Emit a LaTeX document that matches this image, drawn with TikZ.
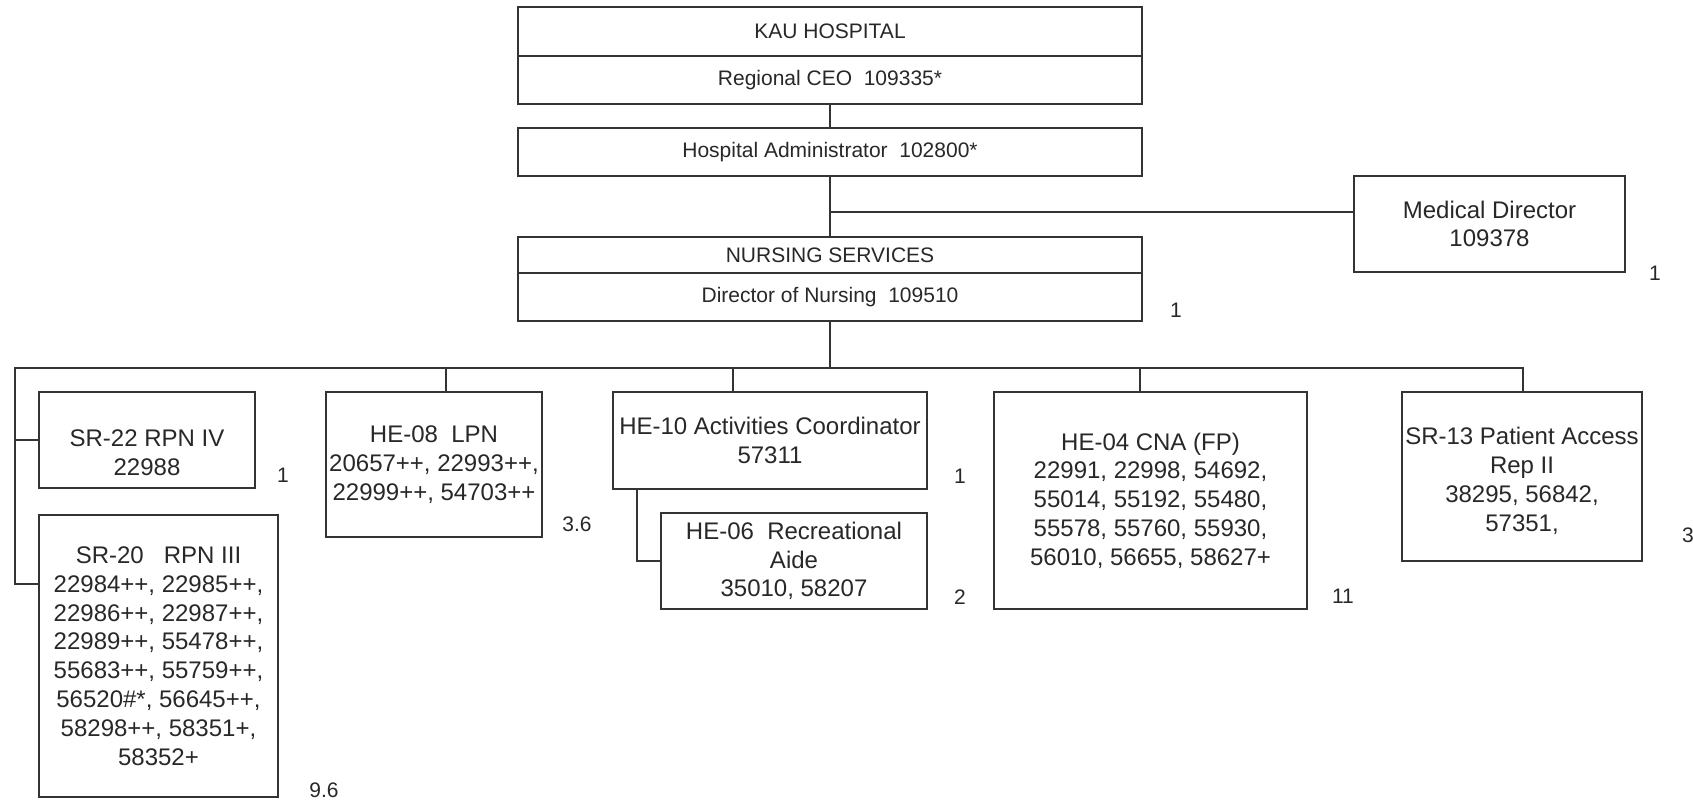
\documentclass[tikz,border=0pt]{standalone}
\usepackage{fontspec}
\setmainfont{Liberation Sans}
\definecolor{ink}{RGB}{52,52,52}
\definecolor{txtc}{RGB}{40,40,40}
\begin{document}
\begin{tikzpicture}[x=1pt,y=-1pt,
  every node/.style={text=txtc},
  box/.style={draw=ink, line width=2.6pt, rectangle, inner sep=0pt, align=center},
  topfont/.style={font=\fontsize{21}{25}\selectfont},
  lowfont/.style={font=\fontsize{24}{28.8}\selectfont},
  txt/.style={align=center, inner sep=0pt, font=\fontsize{24}{28.8}\selectfont},
  numfont/.style={font=\fontsize{21}{25}\selectfont, inner sep=0pt},
  conn/.style={draw=ink, line width=2.6pt}]
\useasboundingbox[fill=white] (0,0) rectangle (1693,801);

% top chain
\node[box, topfont, minimum width=624pt, minimum height=49pt] (kau) at (830,31.5) {KAU HOSPITAL};
\node[box, topfont, minimum width=624pt, minimum height=48pt] (ceo) at (830,80) {Regional CEO\ \ 109335*};
\node[box, topfont, minimum width=624pt, minimum height=48pt] (admin) at (830,152) {Hospital Administrator\ \ 102800*};
\node[box, topfont, minimum width=624pt, minimum height=36pt] (nurs) at (830,255) {NURSING SERVICES};
\node[box, topfont, minimum width=624pt, minimum height=48pt] (dir) at (830,297) {Director of Nursing\ \ 109510};
\node[box, lowfont, minimum width=271pt, minimum height=96pt] (md) at (1489.5,224) {Medical Director\\109378};

% lower boxes
\node[box, minimum width=216pt, minimum height=96pt] (sr22) at (147,440) {};
\node[txt] (sr22t) at (147,453) {SR-22 RPN IV\\22988};
\node[box, lowfont, minimum width=239pt, minimum height=282pt] (sr20) at (158.5,656) {SR-20\ \ \ RPN III\\22984++, 22985++,\\22986++, 22987++,\\22989++, 55478++,\\55683++, 55759++,\\56520\#*, 56645++,\\58298++, 58351+,\\58352+};
\node[box, lowfont, minimum width=216pt, minimum height=145pt] (he08) at (434,464.5) {HE-08\ \ LPN\\20657++, 22993++,\\22999++, 54703++};
\node[box, lowfont, minimum width=314pt, minimum height=97pt] (he10) at (770,440.5) {HE-10 Activities Coordinator\\57311};
\node[box, lowfont, minimum width=266pt, minimum height=96pt] (he06) at (794,561) {HE-06\ \ Recreational\\Aide\\35010, 58207};
\node[box, lowfont, minimum width=313pt, minimum height=217pt] (he04) at (1150.5,500.5) {HE-04 CNA (FP)\\22991, 22998, 54692,\\55014, 55192, 55480,\\55578, 55760, 55930,\\56010, 56655, 58627+};
\node[box, minimum width=240pt, minimum height=169pt] (sr13) at (1522,476.5) {};
\node[txt] (sr13t) at (1522,481) {SR-13 Patient Access\\Rep II\\38295, 56842,\\57351,};

% counts
\node[numfont] (c1) at (1176,310) {1};
\node[numfont] (c2) at (1655,273) {1};
\node[numfont] (c3) at (283,475) {1};
\node[numfont] (c4) at (324,790) {9.6};
\node[numfont] (c5) at (577,524) {3.6};
\node[numfont] (c6) at (960,476) {1};
\node[numfont] (c7) at (960,597) {2};
\node[numfont] (c8) at (1343,596) {11};
\node[numfont] (c9) at (1688,535) {3};

% connectors
\draw[conn] (ceo.south) -- (admin.north);
\draw[conn] (admin.south) -- (nurs.north);
\coordinate (mj) at (830,212);
\draw[conn] (mj) -- (mj -| md.west);
\coordinate (busL) at (15,368);
\coordinate (busR) at (1523,368);
\draw[conn] (dir.south) -- (dir.south |- busL);
\draw[conn] ([yshift=72pt]sr20.west) -| (busL) -- (busR) -- (busR |- sr13.north);
\draw[conn] (sr22.west) -- (sr22.west -| busL);
\draw[conn] ([xshift=12pt]he08.north) -- ([xshift=12pt]he08.north |- busL);
\draw[conn] ([xshift=-37pt]he10.north) -- ([xshift=-37pt]he10.north |- busL);
\draw[conn] ([xshift=-10.5pt]he04.north) -- ([xshift=-10.5pt]he04.north |- busL);
\draw[conn] ([xshift=-133pt]he10.south) |- (he06.west);
\end{tikzpicture}
\end{document}
